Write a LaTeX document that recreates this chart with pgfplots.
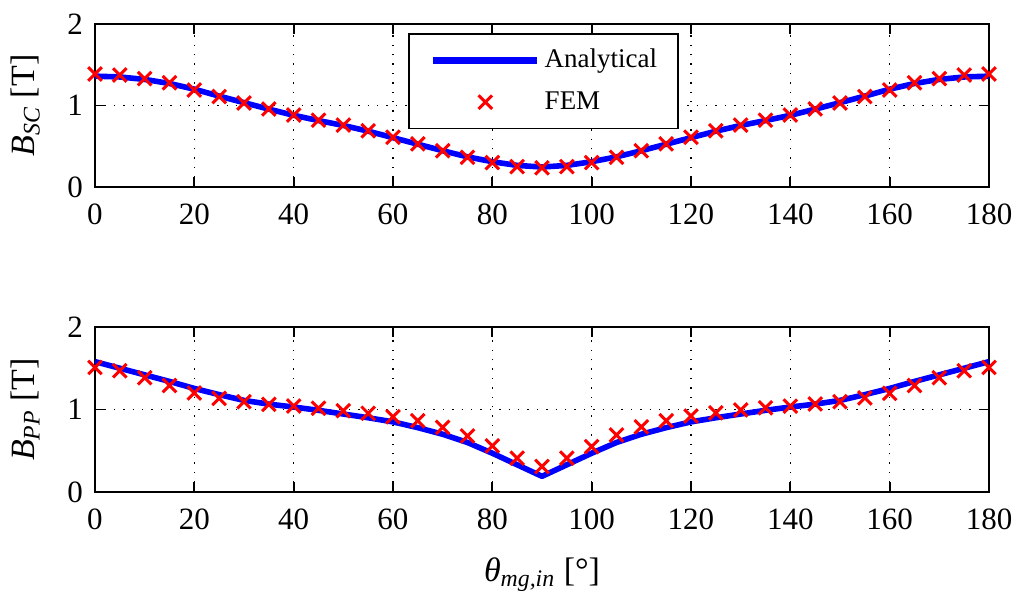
\documentclass[border=0pt]{standalone}
\usepackage{fontspec}
\setmainfont{Liberation Serif}
\usepackage{pgfplots}
\pgfplotsset{compat=1.18}
\definecolor{mblue}{RGB}{0,0,255}
\definecolor{mred}{RGB}{255,0,0}
\newcommand\tickfont{\fontsize{15.5}{18}\selectfont}
\newcommand\labfont{\fontsize{17}{20}\selectfont}
\newcommand\legfont{\fontsize{13.5}{16}\selectfont}
\pgfplotsset{
  mystyle/.style={
    scale only axis, width=447pt,
    xmin=0, xmax=180, ymin=0, ymax=2,
    xtick={0,20,...,180}, ytick={0,1,2},
    xticklabels={0,20,40,60,80,100,120,140,160,180},
    yticklabels={0,1,2},
    tick align=inside, major tick length=5pt,
    xtick pos=both, ytick pos=both,
    axis line style={line width=0.9pt},
    every tick/.style={black, line width=0.9pt},
    grid=major,
    major grid style={black, line width=0.7pt, dash pattern=on 0.7pt off 4pt},
    xticklabel style={font=\tickfont, yshift=-5pt},
    yticklabel style={font=\tickfont, xshift=-2.5pt},
    label style={font=\labfont},
    ylabel style={at={(axis description cs:-0.078,0.5)}, anchor=center},
  },
  analytic/.style={mblue, line width=2.8pt, line join=round,
    legend image code/.code={\draw[##1, line width=3.4pt] (0pt,0pt) -- (52pt,0pt);}},
  fem/.style={only marks, mred, mark=x, mark size=4.8pt, mark options={line width=1.5pt},
    legend image code/.code={\draw[##1] plot coordinates {(26pt,0pt)};}},
}
\begin{document}
\begin{tikzpicture}
\useasboundingbox (0,0) rectangle (512pt,297.5pt);
\begin{axis}[mystyle, height=81.5pt, at={(47.5pt,204pt)}, anchor=south west,
  ylabel={\textit{B}\textsubscript{\textit{SC}} [T]},
  legend style={at={(0.3505,0.943)}, anchor=north west, draw=black, line width=0.9pt,
    fill=white, inner xsep=10.35pt, inner ysep=5.7pt, row sep=5.8pt,
    /tikz/every odd column/.style={column sep=2pt},
    nodes={inner xsep=0pt, inner ysep=0pt, text height=11pt, text depth=4pt, font=\legfont}},
  legend cell align=left,
]
\addplot[analytic] coordinates {
(0,1.36)(5,1.35)(10,1.32)(15,1.27)(20,1.20)(25,1.115)(30,1.035)(35,0.955)(40,0.88)(45,0.815)
(50,0.755)(55,0.685)(60,0.605)(65,0.525)(70,0.445)(75,0.37)(80,0.31)(85,0.265)(90,0.245)
(95,0.265)(100,0.31)(105,0.37)(110,0.445)(115,0.525)(120,0.605)(125,0.685)(130,0.755)(135,0.815)
(140,0.88)(145,0.955)(150,1.035)(155,1.115)(160,1.20)(165,1.27)(170,1.32)(175,1.35)(180,1.36)};
\addlegendentry{Analytical}
\addplot[fem] coordinates {
(0,1.387)(5,1.374)(10,1.33)(15,1.28)(20,1.19)(25,1.11)(30,1.03)(35,0.957)(40,0.883)(45,0.82)
(50,0.76)(55,0.69)(60,0.61)(65,0.53)(70,0.445)(75,0.364)(80,0.30)(85,0.25)(90,0.235)
(95,0.25)(100,0.30)(105,0.364)(110,0.445)(115,0.53)(120,0.61)(125,0.69)(130,0.76)(135,0.82)
(140,0.883)(145,0.957)(150,1.03)(155,1.11)(160,1.19)(165,1.28)(170,1.33)(175,1.374)(180,1.387)};
\addlegendentry{FEM}
\end{axis}
\begin{axis}[mystyle, height=82.5pt, at={(47.5pt,51.5pt)}, anchor=south west,
  ylabel={\textit{B}\textsubscript{\textit{PP}} [T]},
  xlabel={\textit{θ}\textsubscript{\textit{mg,in}} [°]},
  xlabel style={at={(axis description cs:0.5,-0.50)}, anchor=center},
]
\addplot[analytic] coordinates {
(0,1.58)(5,1.50)(10,1.42)(15,1.34)(20,1.255)(25,1.18)(30,1.11)(35,1.065)(40,1.03)(45,0.99)
(50,0.945)(55,0.90)(60,0.85)(65,0.78)(70,0.70)(75,0.60)(80,0.47)(85,0.33)(90,0.19)
(95,0.33)(100,0.47)(105,0.60)(110,0.70)(115,0.78)(120,0.85)(125,0.90)(130,0.945)(135,0.99)
(140,1.03)(145,1.065)(150,1.11)(155,1.18)(160,1.255)(165,1.34)(170,1.42)(175,1.50)(180,1.58)};
\addplot[fem] coordinates {
(0,1.51)(5,1.47)(10,1.385)(15,1.29)(20,1.20)(25,1.135)(30,1.095)(35,1.063)(40,1.042)(45,1.015)
(50,0.985)(55,0.954)(60,0.913)(65,0.864)(70,0.784)(75,0.68)(80,0.56)(85,0.41)(90,0.31)
(95,0.41)(100,0.55)(105,0.69)(110,0.79)(115,0.864)(120,0.92)(125,0.96)(130,0.994)(135,1.02)
(140,1.04)(145,1.067)(150,1.095)(155,1.14)(160,1.196)(165,1.29)(170,1.385)(175,1.47)(180,1.51)};
\end{axis}
\end{tikzpicture}
\end{document}
